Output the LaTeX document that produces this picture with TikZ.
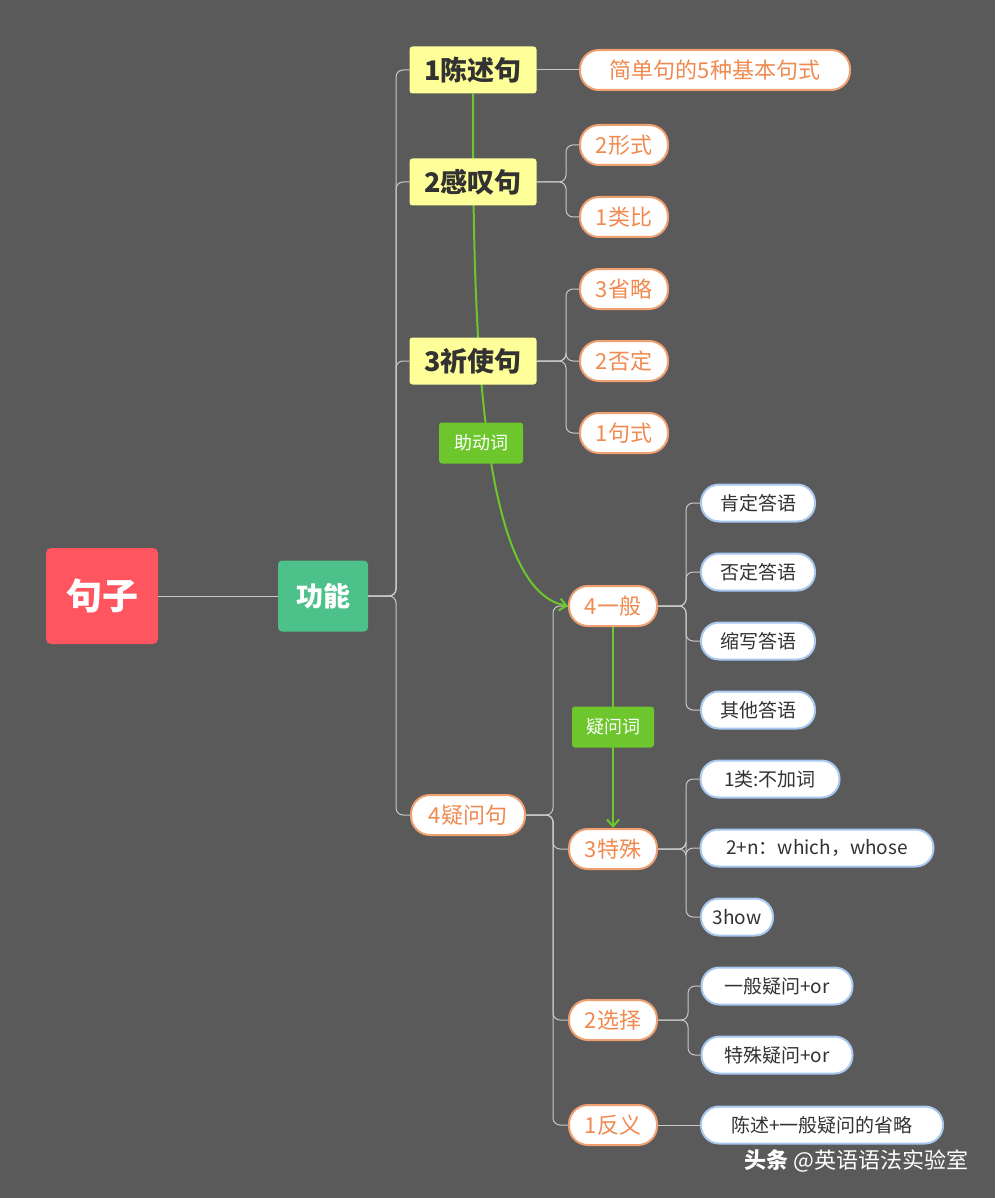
\documentclass[tikz,border=0pt]{standalone}
\usepackage{fontspec}
\setmainfont{Noto Sans CJK SC}
\usetikzlibrary{arrows.meta}
\pgfdeclarelayer{bgl}
\pgfdeclarelayer{mid}
\pgfsetlayers{bgl,mid,main}
\definecolor{bg}{HTML}{5A5A5A}
\definecolor{ln}{HTML}{C8C8C8}
\definecolor{org}{HTML}{F0A070}
\definecolor{orgt}{HTML}{F08A50}
\definecolor{blu}{HTML}{A8C8F0}
\definecolor{grn}{HTML}{6CC62C}
\begin{document}
\begin{tikzpicture}[x=1pt,y=-1pt,
  yel/.style={fill={rgb,255:red,255;green,255;blue,153},rounded corners=3,minimum width=127,minimum height=47,font=\fontsize{27}{27}\selectfont\bfseries,text={rgb,255:red,50;green,50;blue,50},inner sep=0},
  ob/.style={draw=org,line width=2,fill=white,rounded corners=19,minimum height=40,font=\fontsize{22}{22}\selectfont,text=orgt,inner sep=0},
  bb/.style={draw=blu,line width=2,fill=white,rounded corners=18,minimum height=37,font=\fontsize{19}{19}\selectfont,text={rgb,255:red,50;green,50;blue,50},inner sep=0},
  cn/.style={draw=ln,line width=1,rounded corners=7},
  gl/.style={fill=grn,rounded corners=3,text=white,font=\fontsize{18}{18}\selectfont,inner sep=0}]
\useasboundingbox (0,0) rectangle (995,1198);
\begin{pgfonlayer}{bgl}
\fill[bg] (0,0) rectangle (995,1198);
\end{pgfonlayer}
\node[fill={rgb,255:red,255;green,85;blue,96},rounded corners=5,minimum width=112,minimum height=96,text=white,font=\fontsize{36}{36}\selectfont\bfseries] (root) at (102,596) {句子};
\node[fill={rgb,255:red,77;green,193;blue,138},rounded corners=4,minimum width=90,minimum height=71,text=white,font=\fontsize{27}{27}\selectfont\bfseries] (gn) at (323,596) {功能};
\node[yel] (a1) at (473,70) {1陈述句};
\node[yel] (a2) at (473,182) {2感叹句};
\node[yel] (a3) at (473,361) {3祈使句};
\node[ob,minimum width=114] (a4) at (468,815) {4疑问句};
\node[ob,minimum width=270] (b1) at (715,70) {简单句的5种基本句式};
\node[ob,minimum width=88] (c1) at (624,145) {2形式};
\node[ob,minimum width=88] (c2) at (624,217) {1类比};
\node[ob,minimum width=88] (d1) at (624,289) {3省略};
\node[ob,minimum width=88] (d2) at (624,361) {2否定};
\node[ob,minimum width=88] (d3) at (624,433) {1句式};
\node[ob,minimum width=88] (e1) at (613,606) {4一般};
\node[ob,minimum width=88] (e2) at (613,849) {3特殊};
\node[ob,minimum width=88] (e3) at (613,1020) {2选择};
\node[ob,minimum width=88] (e4) at (613,1125) {1反义};
\node[bb,minimum width=114] (f1) at (758,503) {肯定答语};
\node[bb,minimum width=114] (f2) at (758,572) {否定答语};
\node[bb,minimum width=114] (f3) at (758,641) {缩写答语};
\node[bb,minimum width=114] (f4) at (758,710) {其他答语};
\node[bb,minimum width=139] (g1) at (770,779) {1类:不加词};
\node[bb,minimum width=233] (g2) at (817,848) {2+n：which，whose};
\node[bb,minimum width=72] (g3) at (737,917) {3how};
\node[bb,minimum width=151] (h1) at (777,986) {一般疑问+or};
\node[bb,minimum width=151] (h2) at (777,1055) {特殊疑问+or};
\node[bb,minimum width=242] (i1) at (822,1125) {陈述+一般疑问的省略};
\begin{pgfonlayer}{mid}
\draw[ln,line width=1] (root.east) -- (gn.west);
\coordinate (t) at (396,596);
\foreach \n in {a1,a2,a3,a4} \draw[cn] (gn.east) -- (t) |- (\n.west);
\draw[cn] (a1.east) -- (b1.west);
\foreach \n in {c1,c2} \draw[cn] (a2.east) -- (566,182) |- (\n.west);
\foreach \n in {d1,d2,d3} \draw[cn] (a3.east) -- (566,361) |- (\n.west);
\foreach \n in {e1,e2,e3,e4} \draw[cn] (a4.east) -- (553,815) |- (\n.west);
\foreach \n in {f1,f2,f3,f4} \draw[cn] (e1.east) -- (686,606) |- (\n.west);
\foreach \n in {g1,g2,g3} \draw[cn] (e2.east) -- (686,849) |- (\n.west);
\foreach \n in {h1,h2} \draw[cn] (e3.east) -- (688,1020) |- (\n.west);
\draw[cn] (e4.east) -- (i1.west);
\draw[grn,line width=2,-{Straight Barb[length=7,width=12]}] (a1.south) .. controls (473,300) and (475,590) .. (e1.west);
\draw[grn,line width=2,-{Straight Barb[length=7,width=12]}] (e1.south) -- (e2.north);
\end{pgfonlayer}
\node[gl,minimum width=84,minimum height=41] (l1) at (481,443) {助动词};
\node[gl,minimum width=82,minimum height=41] (l2) at (613,727) {疑问词};
\node[text=white,font=\fontsize{22}{22}\selectfont,anchor=east] (wm) at (972,1161) {\textbf{头条} @英语语法实验室};
\end{tikzpicture}
\end{document}
